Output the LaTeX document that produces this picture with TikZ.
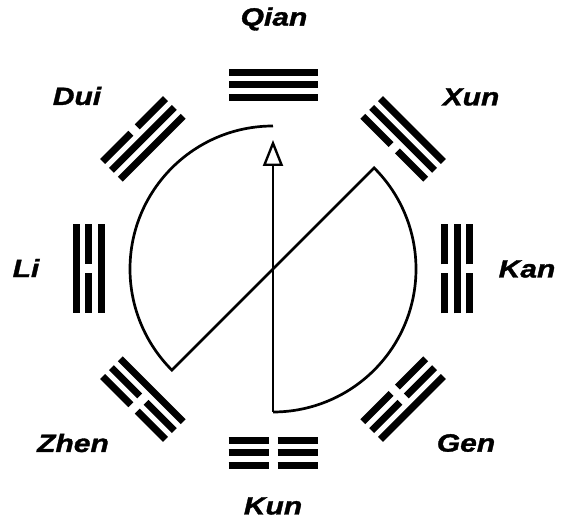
\documentclass[tikz,border=0pt]{standalone}
\usepackage{fontspec}
\newfontfamily\labfont[FakeStretch=1.2, BoldItalicFeatures={FakeBold=1.3}]{Liberation Sans}
\usetikzlibrary{arrows.meta}
\tikzset{
  lab/.style={font=\labfont\bfseries\itshape\fontsize{25}{25}\selectfont, inner sep=0pt},
  bar/.style={line width=7pt, line cap=butt},
  fig/.style={line width=2.7pt, line join=miter},
}
% \yaoline{x}{solid?}
\newcommand\yaoline[2]{%
  \ifnum#2=1
    \draw[bar] (#1,-44.5) -- (#1,44.5);
  \else
    \draw[bar] (#1,-44.5) -- (#1,-4.5);
    \draw[bar] (#1,4.5) -- (#1,44.5);
  \fi}
% \gua{angle}{top}{mid}{bottom}
\newcommand\gua[4]{%
  \begin{scope}[rotate=#1]
    \yaoline{196.5}{#2}
    \yaoline{184}{#3}
    \yaoline{171.5}{#4}
  \end{scope}}
\begin{document}
\begin{tikzpicture}[x=1pt,y=1pt]
\useasboundingbox (-273,-257) rectangle (294,269);
% trigrams
\gua{90}{1}{1}{1}   % Qian
\gua{45}{1}{1}{0}   % Xun
\gua{0}{0}{1}{0}    % Kan
\gua{-45}{1}{0}{0}  % Gen
\gua{-90}{0}{0}{0}  % Kun
\gua{225}{0}{0}{1}  % Zhen
\gua{180}{1}{0}{1}  % Li
\gua{135}{0}{1}{1}  % Dui
% labels
\node[lab] (qian) at (1,250) {Qian};
\node[lab] (dui) at (-196,173) {Dui};
\node[lab] (xun) at (198,172) {Xun};
\node[lab] (li) at (-247,1) {Li};
\node[lab] (kan) at (254,0) {Kan};
\node[lab] (zhen) at (-200,-174) {Zhen};
\node[lab] (gen) at (193,-174) {Gen};
\node[lab] (kun) at (0,-237) {Kun};
% central figure
\coordinate (top) at (90:143);
\coordinate (ll) at (225:143);
\coordinate (ur) at (45:143);
\coordinate (bot) at (-90:143);
\coordinate (tip) at (0,129);
\draw[fig] (top) arc[start angle=90, end angle=225, radius=143] -- (ur)
  arc[start angle=45, end angle=-90, radius=143];
\draw[fig, -{Triangle[open, length=26pt, width=20pt, line width=2.4pt]}] (bot) -- (tip);
\end{tikzpicture}
\end{document}
